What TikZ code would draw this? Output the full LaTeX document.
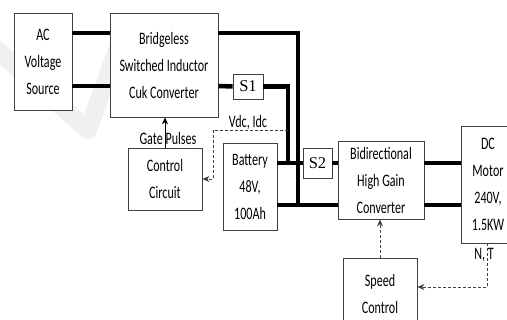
\documentclass[tikz,border=0pt]{standalone}
\usepackage{fontspec}
\setmainfont{Carlito}[FakeStretch=0.69]
\newfontfamily\swfont{Liberation Serif}
\usetikzlibrary{
  calc,
  positioning,
  arrows.meta}

\begin{document}
\begin{tikzpicture}[
  x=1pt, y=-1pt,
  >={Stealth[length=7pt,width=6pt]},
  block/.style={draw=black!75,line width=0.8pt,fill=white,align=center,inner sep=0pt,
    font=\fontsize{17.5}{27}\selectfont},
  switchbox/.style={draw=black!75,line width=0.8pt,fill=white,inner sep=0pt,
    font=\swfont\fontsize{16.5}{18}\selectfont},
  lbl/.style={inner sep=0pt,font=\fontsize{17.5}{27}\selectfont},
  bus/.style={line width=4.5pt},
  sense/.style={draw=black!75,line width=0.8pt,dash pattern=on 3pt off 2pt}
]%
  \useasboundingbox (0,0) rectangle (507,320);
  \fill[white] (0,0) rectangle (507,320);
  \clip (0,0) rectangle (507,320);

  % watermark
  \draw[black!6,line width=18pt,line join=round] (-12,42) -- (88,130) -- (128,20);

  \node[block,minimum width=58pt,minimum height=97pt] (ac) at (43,61.5) {AC\\Voltage\\Source};
  \node[block,minimum width=108pt,minimum height=104pt] (bl) at (164,65) {Bridgeless\\Switched Inductor\\Cuk Converter};
  \node[switchbox,minimum width=30pt,minimum height=25pt] (s1) at (248,86.5) {S1};
  \node[block,minimum width=54pt,minimum height=87pt] (bat) at (250,186.5) {Battery\\48V,\\100Ah};
  \node[switchbox,minimum width=29pt,minimum height=30pt] (s2) at (317.5,163) {S2};
  \node[block,minimum width=86pt,minimum height=78pt] (bd) at (381,180) {Bidirectional\\High Gain\\Converter};
  \node[block,minimum width=54pt,minimum height=117pt] (dc) at (488,184.5) {DC\\Motor\\240V,\\1.5KW};
  \node[block,minimum width=74pt,minimum height=62pt] (cc) at (165,179) {Control\\Circuit};
  \node[block,minimum width=74pt,minimum height=72pt] (sc) at (380,294) {Speed\\Control};

  \node[lbl] (gate) at (168,138) {Gate Pulses};
  \node[lbl] (vdc) at (248,123) {Vdc, Idc};
  \node[lbl] (nt) at (484,255) {N, T};

  \coordinate (yA) at (0,33);
  \coordinate (yB) at (0,86);
  \coordinate (j1) at (288,163);
  \coordinate (j2) at (298,205);
  \coordinate (tap) at (288,130);
  \coordinate (fb) at (487,287);

  % power path
  \draw[bus] (ac.east |- yA) -- (bl.west |- yA);
  \draw[bus] (ac.east |- yB) -- (bl.west |- yB);
  \draw[bus] (bl.east |- yA) -| (j2);
  \draw[bus] (bl.east |- yB) -- (s1.west);
  \draw[bus] (s1.east) -| (j1);
  \draw[bus] (bat.east |- j1) -- (s2.west);
  \draw[bus] (bat.east |- j2) -- (bd.west |- j2);
  \draw[bus] (s2.east) -- (bd.west |- s2.east);
  \draw[bus] (bd.east |- j1) -- (dc.west |- j1);
  \draw[bus] (bd.east |- j2) -- (dc.west |- j2);

  % control signals
  \draw[->,line width=0.8pt] (cc.north) -- (cc.north |- bl.south);
  \draw[sense,->] (tap) -| ($(cc.east)+(11,0)$) -- (cc.east);
  \draw[sense,->] (sc.north) -- (sc.north |- bd.south);
  \draw[sense,->] (dc.south -| fb) -- (fb) -- (sc.east |- fb);
\end{tikzpicture}
\end{document}
